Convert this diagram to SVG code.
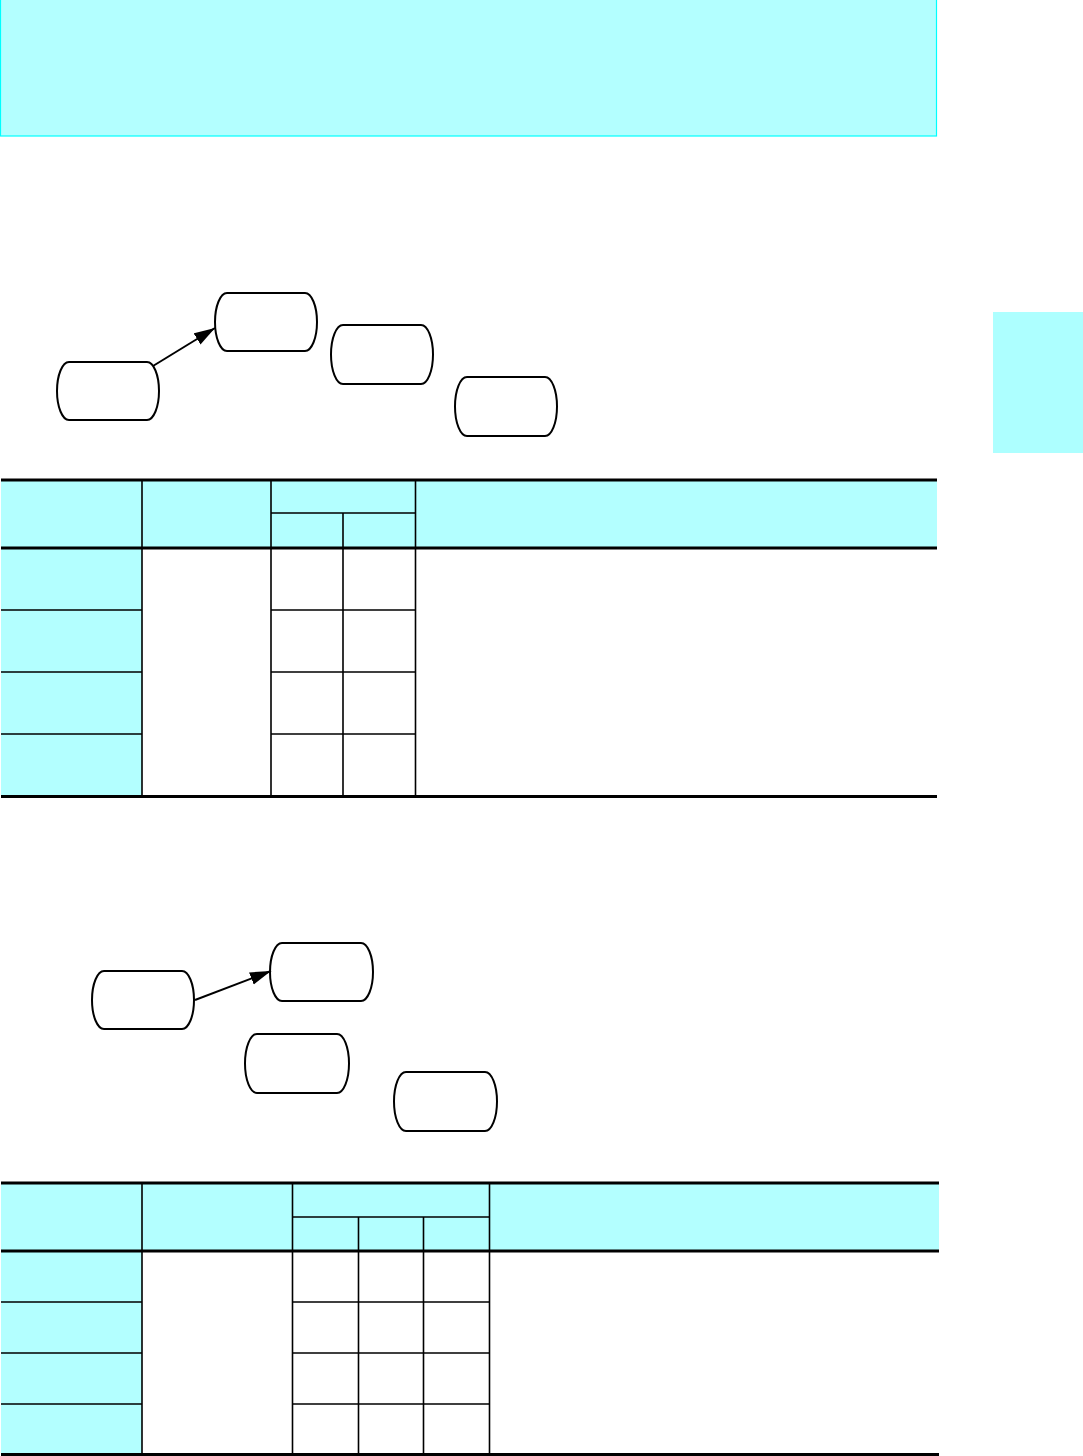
<svg xmlns="http://www.w3.org/2000/svg" width="1083" height="1456" viewBox="0 0 1083 1456">
<style>
.node{fill:#fff;stroke:#000;stroke-width:2}
.cy{fill:#B3FFFF;stroke:none}
.thick{stroke:#000;stroke-width:3;fill:none}
.thin{stroke:#000;stroke-width:1.6;fill:none}
.conn{stroke:#000;stroke-width:2;fill:none}
</style>
<defs>
<marker id="ah" markerUnits="userSpaceOnUse" markerWidth="22" markerHeight="14" refX="21" refY="7" orient="auto">
<path d="M0,0.5 L21,7 L0,13.5 Z" fill="#000"/>
</marker>
</defs>
<g id="banner"><rect x="0.5" y="-1" width="936" height="137" fill="#B3FFFF" stroke="#00FFFF" stroke-width="1.2"/></g>
<g id="tab"><rect x="993" y="312" width="90" height="141" fill="#ADFFFF"/></g>

<g id="n1"><path class="node" d="M69,362 H147 A12 29 0 0 1 147,420 H69 A12 29 0 0 1 69,362 Z"/></g>
<g id="n2"><path class="node" d="M227,293 H305 A12 29 0 0 1 305,351 H227 A12 29 0 0 1 227,293 Z"/></g>
<g id="n3"><path class="node" d="M343,325 H421 A12 29.5 0 0 1 421,384 H343 A12 29.5 0 0 1 343,325 Z"/></g>
<g id="n4"><path class="node" d="M467,377 H545 A12 29.5 0 0 1 545,436 H467 A12 29.5 0 0 1 467,377 Z"/></g>

<g id="m1"><path class="node" d="M104,971 H182 A12 29 0 0 1 182,1029 H104 A12 29 0 0 1 104,971 Z"/></g>
<g id="m2"><path class="node" d="M282,943 H361 A12 29 0 0 1 361,1001 H282 A12 29 0 0 1 282,943 Z"/></g>
<g id="m3"><path class="node" d="M257,1034 H337 A12 29.5 0 0 1 337,1093 H257 A12 29.5 0 0 1 257,1034 Z"/></g>
<g id="m4"><path class="node" d="M406,1072 H485 A12 29.5 0 0 1 485,1131 H406 A12 29.5 0 0 1 406,1072 Z"/></g>

<g id="connectors">
<line class="conn" x1="153" y1="366" x2="215" y2="328" marker-end="url(#ah)"/>
<line class="conn" x1="195" y1="1000" x2="271" y2="971" marker-end="url(#ah)"/>
</g>

<g id="table1">
<rect class="cy" x="1" y="480" width="936" height="68"/>
<rect class="cy" x="1" y="548" width="141" height="248"/>
<path class="thin" d="M142,480 V796 M271,480 V796 M415.5,480 V796 M343,513 V796 M271,513 H415.5 M1,610 H142 M1,672 H142 M1,734 H142 M271,610 H415.5 M271,672 H415.5 M271,734 H415.5"/>
<path class="thick" d="M1,480 H937 M1,548 H937 M1,796.5 H937"/>
</g>

<g id="table2">
<rect class="cy" x="1" y="1183" width="938" height="68"/>
<rect class="cy" x="1" y="1251" width="141" height="203"/>
<path class="thin" d="M142,1183 V1454 M292.5,1183 V1454 M489.5,1183 V1454 M358.5,1217 V1454 M423.5,1217 V1454 M292.5,1217 H489.5 M1,1302 H142 M1,1353 H142 M1,1404 H142 M292.5,1302 H489.5 M292.5,1353 H489.5 M292.5,1404 H489.5"/>
<path class="thick" d="M1,1183 H939 M1,1251 H939 M1,1454.5 H939"/>
</g>
</svg>
